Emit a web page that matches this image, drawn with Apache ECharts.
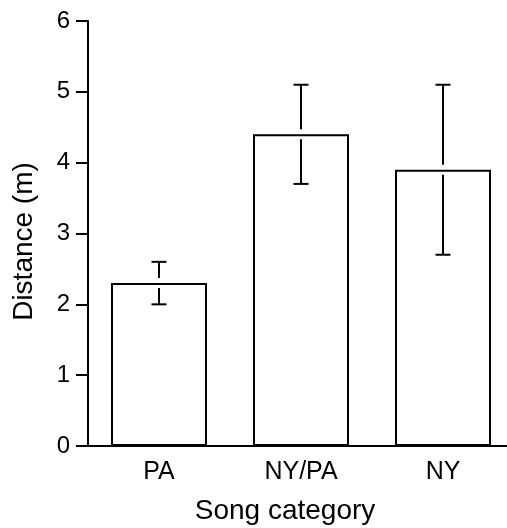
<!DOCTYPE html>
<html>
<head>
<meta charset="utf-8">
<script src="https://cdn.jsdelivr.net/npm/echarts@6/dist/echarts.min.js"></script>
<style>
  html, body { margin: 0; padding: 0; background: #fff; }
  #main { width: 507px; height: 528px; }
</style>
</head>
<body>
<div id="main"></div>
<script>
// data
var categories = ['PA', 'NY/PA', 'NY'];
var means = [2.3, 4.4, 3.9];
var errLow = [2.0, 3.7, 2.7];
var errHigh = [2.6, 5.1, 5.1];
var yTicks = [0, 1, 2, 3, 4, 5, 6];

var FONT = '"Liberation Sans", Arial, Helvetica, sans-serif';

var myChart = echarts.init(document.getElementById('main'));

var errData = categories.map(function (c, i) {
    return [i, means[i], errLow[i], errHigh[i]];
});

myChart.setOption({
    animation: false,
    backgroundColor: '#fff',
    grid: { left: 88, top: 21, bottom: 82, width: 426, outerBoundsMode: 'none', containLabel: false },
    xAxis: {
        type: 'category',
        data: categories,
        name: 'Song category',
        nameLocation: 'middle',
        nameGap: 51,
        nameTextStyle: { fontFamily: FONT, fontSize: 28, color: '#000', padding: [0, 32, 0, 0] },
        axisLine: { lineStyle: { color: '#000', width: 2 } },
        axisTick: { alignWithLabel: true, length: 11, lineStyle: { color: '#000', width: 2 } },
        axisLabel: { fontFamily: FONT, fontSize: 25, color: '#000', margin: 14 }
    },
    yAxis: {
        type: 'value',
        min: yTicks[0],
        max: yTicks[yTicks.length - 1],
        interval: 1,
        name: 'Distance (m)',
        nameLocation: 'middle',
        nameGap: 50,
        nameTextStyle: { fontFamily: FONT, fontSize: 28, color: '#000', padding: [0, 16, 0, 0] },
        axisLine: { show: true, lineStyle: { color: '#000', width: 2 } },
        axisTick: { show: true, length: 12, lineStyle: { color: '#000', width: 2 } },
        axisLabel: { fontFamily: FONT, fontSize: 24, color: '#000', margin: 18 },
        splitLine: { show: false }
    },
    series: [
        {
            type: 'bar',
            data: means,
            barWidth: 96,
            itemStyle: { color: '#fff', borderColor: '#000', borderWidth: 2 }
        },
        {
            type: 'custom',
            data: errData,
            z: 5,
            renderItem: function (params, api) {
                var x = api.coord([api.value(0), 0])[0];
                var yMean = api.coord([0, api.value(1)])[1];
                var yLow = api.coord([0, api.value(2)])[1];
                var yHigh = api.coord([0, api.value(3)])[1];
                var gap = 5, half = 7.5;
                var style = { stroke: '#000', lineWidth: 2 };
                return {
                    type: 'group',
                    children: [
                        { type: 'line', shape: { x1: x, y1: yHigh, x2: x, y2: yMean - gap }, style: style },
                        { type: 'line', shape: { x1: x - half, y1: yHigh, x2: x + half, y2: yHigh }, style: style },
                        { type: 'line', shape: { x1: x, y1: yMean + gap, x2: x, y2: yLow }, style: style },
                        { type: 'line', shape: { x1: x - half, y1: yLow, x2: x + half, y2: yLow }, style: style }
                    ]
                };
            }
        }
    ]
});
</script>
</body>
</html>
